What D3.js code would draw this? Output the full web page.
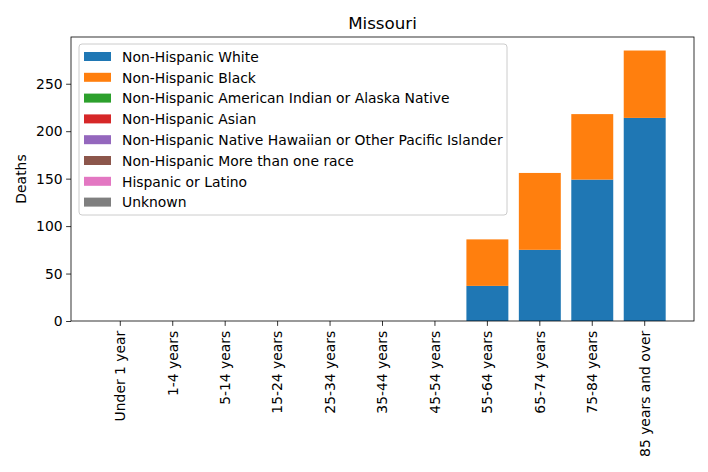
<!DOCTYPE html>
<html>
<head>
<meta charset="utf-8">
<script src="https://cdn.jsdelivr.net/npm/d3@7"></script>
<style>
  body { margin: 0; background: #fff; }
  text { font-family: "DejaVu Sans", sans-serif; fill: #000; }
</style>
</head>
<body>
<script>
// age groups on the x axis
var ageGroups = ["Under 1 year", "1-4 years", "5-14 years", "15-24 years", "25-34 years",
    "35-44 years", "45-54 years", "55-64 years", "65-74 years", "75-84 years", "85 years and over"];

// race / ethnicity series (stack order)
var seriesNames = ["Non-Hispanic White", "Non-Hispanic Black",
    "Non-Hispanic American Indian or Alaska Native", "Non-Hispanic Asian",
    "Non-Hispanic Native Hawaiian or Other Pacific Islander", "Non-Hispanic More than one race",
    "Hispanic or Latino", "Unknown"];

var whiteDeaths    = [0, 0, 0, 0, 0, 0, 0, 37, 75, 149, 214];
var blackDeaths    = [0, 0, 0, 0, 0, 0, 0, 49, 81, 69, 71];
var aianDeaths     = [0, 0, 0, 0, 0, 0, 0, 0, 0, 0, 0];
var asianDeaths    = [0, 0, 0, 0, 0, 0, 0, 0, 0, 0, 0];
var nhopiDeaths    = [0, 0, 0, 0, 0, 0, 0, 0, 0, 0, 0];
var multiDeaths    = [0, 0, 0, 0, 0, 0, 0, 0, 0, 0, 0];
var hispanicDeaths = [0, 0, 0, 0, 0, 0, 0, 0, 0, 0, 0];
var unknownDeaths  = [0, 0, 0, 0, 0, 0, 0, 0, 0, 0, 0];

var yTicks = [0, 50, 100, 150, 200, 250];

var colors = ["#1f77b4", "#ff7f0e", "#2ca02c", "#d62728", "#9467bd", "#8c564b", "#e377c2", "#7f7f7f"];

var seriesValues = [whiteDeaths, blackDeaths, aianDeaths, asianDeaths,
    nhopiDeaths, multiDeaths, hispanicDeaths, unknownDeaths];

//build rows for d3.stack
var rows = ageGroups.map(function (g, i) {
    var row = { group: g };
    seriesNames.forEach(function (s, j) { row[s] = seriesValues[j][i]; });
    return row;
});

var width = 708, height = 472;
var margin = { top: 37, right: 14, bottom: 151, left: 71 };
var plotW = width - margin.left - margin.right,
    plotH = height - margin.top - margin.bottom;
var fontPx = "13.9px";

var svg = d3.select("body").append("svg")
    .attr("width", width)
    .attr("height", height);

var stacked = d3.stack().keys(seriesNames)(rows);
var maxTotal = d3.max(rows, function (r) {
    return d3.sum(seriesNames, function (s) { return r[s]; });
});

var x = d3.scaleBand()
    .domain(ageGroups)
    .range([0, plotW])
    .paddingInner(0.2)
    .paddingOuter(0.54);

var y = d3.scaleLinear()
    .domain([0, maxTotal * 1.05])
    .range([plotH, 0]);

var g = svg.append("g")
    .attr("transform", "translate(" + margin.left + "," + margin.top + ")");

//bars
g.selectAll(".layer")
    .data(stacked)
    .enter()
    .append("g")
    .attr("class", "layer")
    .attr("fill", function (d, i) { return colors[i]; })
    .selectAll("rect")
    .data(function (d) { return d; })
    .enter()
    .append("rect")
    .attr("x", function (d) { return x(d.data.group); })
    .attr("width", x.bandwidth())
    .attr("y", function (d) { return y(d[1]); })
    .attr("height", function (d) { return y(d[0]) - y(d[1]); });

//axes
var yAxis = g.append("g")
    .call(d3.axisLeft(y).tickValues(yTicks).tickSize(4.9).tickPadding(3.5));
var xAxis = g.append("g")
    .attr("transform", "translate(0," + plotH + ")")
    .call(d3.axisBottom(x).tickSize(4.9).tickPadding(3.5));

[xAxis, yAxis].forEach(function (a) {
    a.select(".domain").remove();
    a.selectAll("line").attr("stroke", "#000").attr("stroke-width", 0.8);
    a.selectAll("text").style("font-size", fontPx).style("font-family", "DejaVu Sans");
});

xAxis.selectAll("text")
    .attr("transform", "rotate(-90)")
    .attr("text-anchor", "end")
    .attr("x", -9.7)
    .attr("y", 0)
    .attr("dy", "0.35em");

//frame
g.append("rect")
    .attr("width", plotW)
    .attr("height", plotH)
    .attr("fill", "none")
    .attr("stroke", "#000")
    .attr("stroke-width", 0.8);

//title and y label
svg.append("text")
    .attr("x", margin.left + plotW / 2)
    .attr("y", 29)
    .attr("text-anchor", "middle")
    .style("font-size", "16.7px")
    .text("Missouri");

svg.append("text")
    .attr("transform", "translate(26," + (margin.top + plotH / 2) + ") rotate(-90)")
    .attr("text-anchor", "middle")
    .style("font-size", fontPx)
    .text("Deaths");

//legend
var legend = g.append("g").attr("transform", "translate(8,7)");
legend.append("rect")
    .attr("width", 428)
    .attr("height", 171)
    .attr("rx", 3)
    .attr("fill", "#fff")
    .attr("fill-opacity", 0.8)
    .attr("stroke", "#ccc")
    .attr("stroke-width", 1);

var items = legend.selectAll(".item")
    .data(seriesNames)
    .enter()
    .append("g")
    .attr("class", "item")
    .attr("transform", function (d, i) { return "translate(5," + (12 + i * 20.8) + ")"; });

items.append("rect")
    .attr("x", 0)
    .attr("y", -4)
    .attr("width", 27)
    .attr("height", 9)
    .attr("fill", function (d, i) { return colors[i]; });

items.append("text")
    .attr("x", 38)
    .attr("dy", "0.35em")
    .attr("y", 1)
    .style("font-size", fontPx)
    .text(function (d) { return d; });
</script>
</body>
</html>
